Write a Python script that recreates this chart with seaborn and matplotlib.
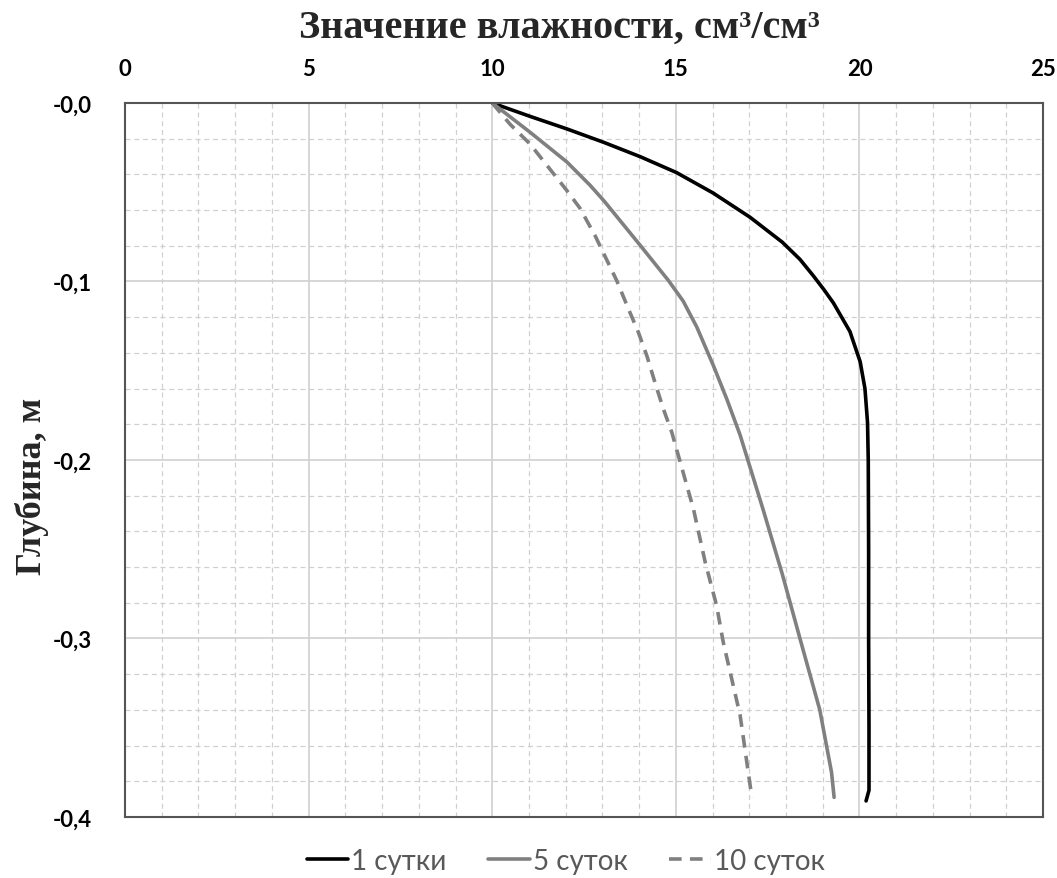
import matplotlib
matplotlib.use("Agg")
import matplotlib.pyplot as plt
from matplotlib.ticker import FixedLocator, FixedFormatter, MultipleLocator
import seaborn as sns
import pandas as pd

# Moisture profiles: depth (m, negative downward) vs moisture value
depth_1 = [0.0, -0.0075, -0.0145, -0.022, -0.030, -0.039, -0.0505, -0.064, -0.078,
           -0.0876, -0.0967, -0.1045, -0.112, -0.128, -0.145, -0.160, -0.179, -0.2,
           -0.25, -0.30, -0.35, -0.385, -0.391]
moist_1 = [10.0, 11.03, 12.03, 13.03, 14.02, 15.02, 16.02, 17.02, 17.9,
           18.38, 18.74, 19.03, 19.29, 19.74, 20.02, 20.15, 20.22, 20.24,
           20.25, 20.25, 20.26, 20.26, 20.18]

depth_5 = [0.0, -0.0164, -0.033, -0.046, -0.055, -0.0795, -0.0995,
           -0.111, -0.1255, -0.147, -0.166, -0.186, -0.228, -0.264, -0.300,
           -0.340, -0.375, -0.389]
moist_5 = [10.0, 11.03, 12.03, 12.66, 13.05, 14.02, 14.8,
           15.2, 15.57, 16.02, 16.39, 16.75, 17.38, 17.9, 18.38,
           18.92, 19.24, 19.31]

depth_10 = [0.0, -0.0118, -0.023, -0.036, -0.049, -0.059, -0.0743, -0.0995, -0.1154,
            -0.1285, -0.1416, -0.1565, -0.1714, -0.1845, -0.1976, -0.2275, -0.2573,
            -0.2816, -0.302, -0.343, -0.389]
moist_10 = [10.0, 10.48, 11.03, 11.53, 12.03, 12.39, 12.8, 13.39, 13.71,
            13.98, 14.21, 14.43, 14.66, 14.89, 15.07, 15.48, 15.8,
            16.11, 16.29, 16.75, 17.07]

series_names = ["1 сутки", "5 суток", "10 суток"]
x_ticks = [0, 5, 10, 15, 20, 25]
y_ticks = [0.0, -0.1, -0.2, -0.3, -0.4]
y_tick_labels = ["-0,0", "-0,1", "-0,2", "-0,3", "-0,4"]

frames = []
for name, d, m in zip(series_names, [depth_1, depth_5, depth_10],
                      [moist_1, moist_5, moist_10]):
    frames.append(pd.DataFrame({"depth": d, "moisture": m, "series": name}))
df = pd.concat(frames, ignore_index=True)

sns.set_theme(style="white")
plt.rcParams["font.family"] = ["Lato", "DejaVu Sans"]

fig = plt.figure(figsize=(10.57, 8.79), dpi=100)
ax = fig.add_axes([0.1183, 0.0694, 0.8685, 0.8123])

palette = {"1 сутки": "#000000", "5 суток": "#808080", "10 суток": "#808080"}
sns.lineplot(data=df, x="moisture", y="depth", hue="series", style="series",
             palette=palette, dashes={"1 сутки": "", "5 суток": "", "10 суток": (3.5, 2.3)},
             sort=False, estimator=None, linewidth=2.6, ax=ax)
for ln in ax.get_lines():
    ln.set_solid_joinstyle("round")
    ln.set_dash_joinstyle("round")

ax.set_xlim(0, 25)
ax.set_ylim(-0.4, 0.0)
ax.xaxis.set_major_locator(FixedLocator(x_ticks))
ax.xaxis.set_minor_locator(MultipleLocator(1))
ax.yaxis.set_major_locator(FixedLocator(y_ticks))
ax.yaxis.set_major_formatter(FixedFormatter(y_tick_labels))
ax.yaxis.set_minor_locator(MultipleLocator(0.02))

ax.xaxis.tick_top()
ax.xaxis.set_label_position("top")
ax.tick_params(axis="both", which="both", length=0)
ax.tick_params(axis="x", pad=17, labelsize=16)
ax.tick_params(axis="y", pad=24, labelsize=16)
for lbl in ax.get_xticklabels() + ax.get_yticklabels():
    lbl.set_fontweight("bold")
    lbl.set_color("#000000")

ax.grid(True, which="major", color="#d0d0d0", linewidth=1.2, linestyle="-")
ax.grid(True, which="minor", color="#d0d0d0", linewidth=0.9, linestyle=(0, (4, 3)))
ax.set_axisbelow(True)
for sp in ax.spines.values():
    sp.set_color("#555555")
    sp.set_linewidth(1.5)

serif = ["Liberation Serif", "DejaVu Serif"]
fig.text(0.529, 0.968, "Значение влажности, см³/см³", ha="center", va="center",
         fontsize=29, fontweight="bold", family=serif)
ax.set_xlabel("")
ax.set_ylabel("")
fig.text(0.030, 0.447, "Глубина, м", ha="center", va="center", rotation=90,
         fontsize=26, fontweight="bold", family=serif)

handles, labels = ax.get_legend_handles_labels()
leg = ax.legend(handles, labels, loc="upper center", bbox_to_anchor=(0.48, -0.008),
                ncol=3, frameon=False, fontsize=20, handlelength=1.5,
                handletextpad=0.1, columnspacing=1.5)
for t in leg.get_texts():
    t.set_color("#595959")
for h in leg.get_lines():
    h.set_linewidth(2.6)

fig.savefig("out.png", dpi=100)
